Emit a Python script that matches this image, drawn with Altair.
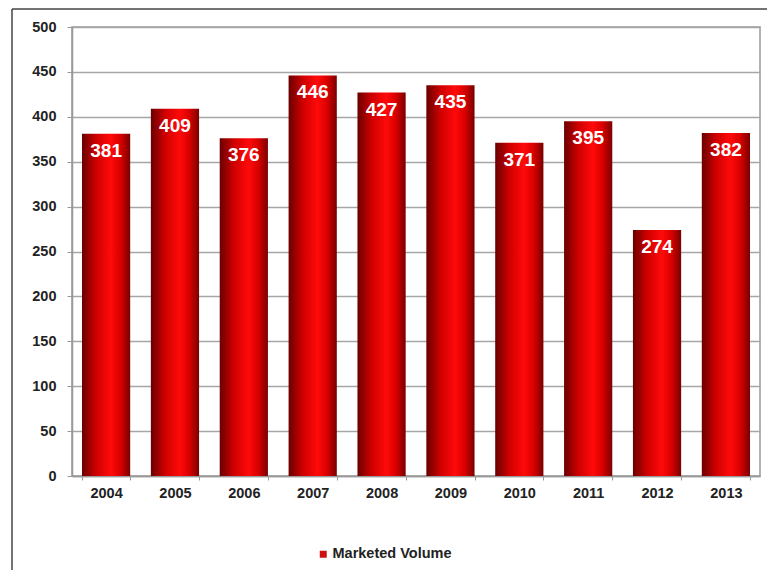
import altair as alt
import pandas as pd

years = ["2004", "2005", "2006", "2007", "2008", "2009", "2010", "2011", "2012", "2013"]
volumes = [381, 409, 376, 446, 427, 435, 371, 395, 274, 382]
series_name = "Marketed Volume"
y_ticks = [0, 50, 100, 150, 200, 250, 300, 350, 400, 450, 500]

df = pd.DataFrame({"year": years, "volume": volumes, "series": [series_name] * len(years)})

FONT = "Liberation Sans"

x_enc = alt.X(
    "year:N",
    sort=years,
    scale=alt.Scale(paddingInner=0.3, paddingOuter=0.145),
    axis=alt.Axis(
        title=None, labelAngle=0, labelFont=FONT, labelFontSize=14.5, labelFontWeight="bold",
        labelColor="#222222", tickBand="extent", tickSize=4, tickColor="#999999",
        domainColor="#999999", domainWidth=1.5, labelPadding=6, grid=False,
    ),
)
y_enc = alt.Y(
    "volume:Q",
    scale=alt.Scale(domain=[0, 500], nice=False),
    axis=alt.Axis(
        title=None, values=y_ticks, labelFont=FONT, labelFontSize=14.5, labelFontWeight="bold",
        labelColor="#222222", tickSize=5, tickColor="#999999", domainColor="#999999",
        domainWidth=1.5, labelPadding=11, grid=True, gridColor="#a6a6a6", gridWidth=1.5,
    ),
)

base = alt.Chart(df)

bars = base.mark_bar(
    color=alt.Gradient(
        gradient="linear",
        stops=[
            alt.GradientStop(color="#6a0000", offset=0),
            alt.GradientStop(color="#d00000", offset=0.3),
            alt.GradientStop(color="#ff0a0a", offset=0.6),
            alt.GradientStop(color="#d80000", offset=0.8),
            alt.GradientStop(color="#7a0000", offset=1),
        ],
        x1=0, x2=1, y1=0, y2=0,
    )
).encode(x=x_enc, y=y_enc)

legend_layer = base.mark_square(opacity=0, size=1).encode(
    x=x_enc,
    y=y_enc,
    color=alt.Color(
        "series:N",
        scale=alt.Scale(range=["#cc1111"]),
        legend=alt.Legend(
            title=None, orient="none", legendX=244, legendY=520, symbolType="square",
            symbolSize=49, symbolOpacity=1, symbolStrokeWidth=0, labelFont=FONT,
            labelFontSize=14.5, labelFontWeight="bold", labelColor="#222222", padding=0,
            labelOffset=2,
        ),
    ),
)

labels = base.mark_text(
    font=FONT, fontSize=19, fontWeight="bold", color="white", baseline="top", dy=8
).encode(x=x_enc, y=y_enc, text="volume:Q")

frame_df = pd.DataFrame({"a": [0]})
left_line = alt.Chart(frame_df).mark_rule(color="#444444", strokeWidth=1.5).encode(
    x=alt.value(-60), y=alt.value(-18), y2=alt.value(545)
)
top_line = alt.Chart(frame_df).mark_rule(color="#444444", strokeWidth=1.5).encode(
    x=alt.value(-60), x2=alt.value(720), y=alt.value(-18)
)

chart = (
    alt.layer(bars, legend_layer, labels, left_line, top_line)
    .properties(
        width=688, height=449,
        autosize=alt.AutoSizeParams(type="none"),
        padding={"left": 64, "top": 19, "right": 7, "bottom": 94},
        background="white",
    )
    .configure_view(stroke="#999999", strokeWidth=1.5)
)

chart.save("out.html", embed_options={"renderer": "svg", "actions": False})
